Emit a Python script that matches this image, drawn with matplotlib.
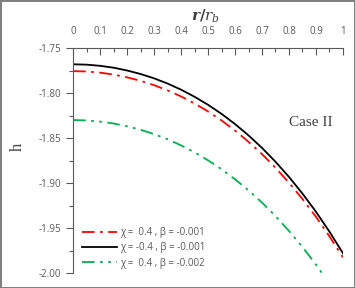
import matplotlib.pyplot as plt
from matplotlib.ticker import MultipleLocator

r = [0, 0.05, 0.1, 0.15, 0.2, 0.25, 0.3, 0.35, 0.4, 0.45, 0.5,
     0.55, 0.6, 0.65, 0.7, 0.75, 0.8, 0.85, 0.9, 0.95, 1.0]
h_red = [-1.7756, -1.7760, -1.7773, -1.7794, -1.7825, -1.7864, -1.7912, -1.7970, -1.8037, -1.8116, -1.8204,
         -1.8304, -1.8416, -1.8541, -1.8678, -1.8830, -1.8996, -1.9177, -1.9375, -1.9592, -1.9826]
h_black = [-1.7680, -1.7684, -1.7697, -1.7718, -1.7749, -1.7788, -1.7836, -1.7894, -1.7962, -1.8041, -1.8130,
           -1.8231, -1.8344, -1.8470, -1.8609, -1.8763, -1.8932, -1.9117, -1.9319, -1.9540, -1.9780]
h_green = [-1.8300, -1.8304, -1.8317, -1.8338, -1.8369, -1.8408, -1.8456, -1.8513, -1.8581, -1.8659, -1.8747,
           -1.8846, -1.8958, -1.9081, -1.9217, -1.9367, -1.9532, -1.9711, -1.9906, -2.0119, -2.0350]
xticks = [0, 0.1, 0.2, 0.3, 0.4, 0.5, 0.6, 0.7, 0.8, 0.9, 1.0]
xticklabels = ['0', '0.1', '0.2', '0.3', '0.4', '0.5', '0.6', '0.7', '0.8', '0.9', '1']
labels = ["χ =  0.4 , β = -0.001", "χ = -0.4 , β = -0.001", "χ =  0.4 , β = -0.002"]

gray = '#595959'
fig = plt.figure(figsize=(3.55, 2.88), dpi=100, edgecolor='#7f7f7f', linewidth=2)
ax = fig.add_axes([0.206, 0.052, 0.76, 0.781])

ax.plot(r, h_red, color='#ff0000', lw=1.3, dashes=(7, 3, 1.5, 3), label=labels[0])
ax.plot(r, h_black, color='black', lw=1.3, label=labels[1])
ax.plot(r, h_green, color='#00b050', lw=1.3, dashes=(7, 3, 1.5, 3, 1.5, 3), label=labels[2])

ax.set_xlim(0, 1)
ax.set_ylim(-2.0, -1.75)
ax.xaxis.tick_top()
ax.set_xticks(xticks)
ax.set_xticklabels(xticklabels)
ax.xaxis.set_minor_locator(MultipleLocator(0.05))
ax.yaxis.set_major_locator(MultipleLocator(0.05))
ax.yaxis.set_minor_locator(MultipleLocator(0.025))
ax.tick_params(axis='x', which='major', direction='in', length=5, width=0.8, labelsize=7,
               labelcolor=gray, pad=8, color=gray)
ax.tick_params(axis='x', which='minor', direction='in', length=3, width=0.8, color=gray)
ax.tick_params(axis='y', which='major', direction='out', length=5, width=0.8, labelsize=7,
               labelcolor=gray, color=gray)
ax.tick_params(axis='y', which='minor', direction='out', length=3, width=0.8, color=gray)
ax.yaxis.set_major_formatter(plt.FuncFormatter(lambda v, p: f"{v:.2f}"))
for lab in ax.get_xticklabels() + ax.get_yticklabels():
    lab.set_family('Open Sans')

ax.spines['right'].set_visible(False)
ax.spines['bottom'].set_visible(False)
ax.spines['top'].set_color(gray)
ax.spines['left'].set_color(gray)

fig.text(0.578, 0.945, r'$\boldsymbol{r/r_b}$', ha='center', va='center', fontsize=11,
         color='#404040', math_fontfamily='dejavuserif')
fig.text(0.05, 0.49, 'h', rotation=90, ha='center', va='center', fontsize=12,
         family='Liberation Serif', color='#404040')
ax.text(0.96, 0.67, 'Case II', transform=ax.transAxes, ha='right', va='center',
        fontsize=11, family='Liberation Serif', color='#404040')

leg = ax.legend(loc='lower left', bbox_to_anchor=(0.0, -0.02), frameon=False,
                handlelength=3.6, handletextpad=0.3, labelspacing=0.45, labelcolor=gray,
                prop={'family': 'Open Sans', 'size': 7})

fig.savefig('out.png', dpi=100, edgecolor=fig.get_edgecolor())
